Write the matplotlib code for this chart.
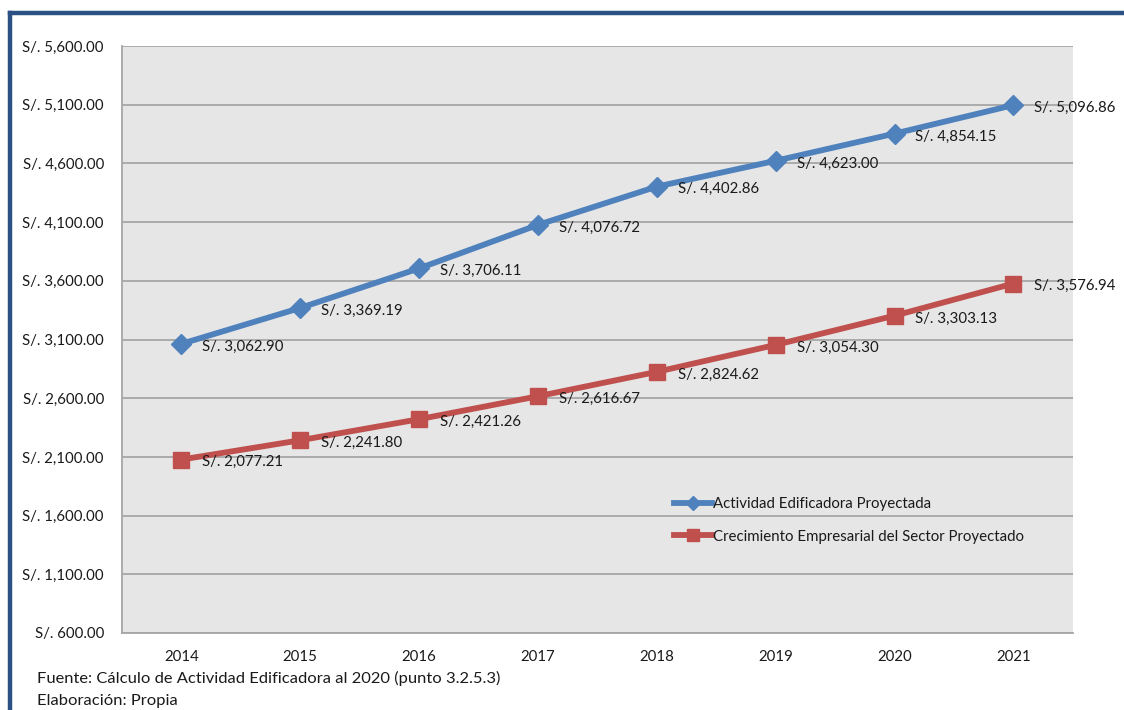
import matplotlib
matplotlib.use("Agg")
import matplotlib.pyplot as plt
from matplotlib.lines import Line2D

plt.rcParams['font.family'] = ['Lato', 'DejaVu Sans']

years = [2014, 2015, 2016, 2017, 2018, 2019, 2020, 2021]
actividad = [3062.90, 3369.19, 3706.11, 4076.72, 4402.86, 4623.00, 4854.15, 5096.86]
crecimiento = [2077.21, 2241.80, 2421.26, 2616.67, 2824.62, 3054.30, 3303.13, 3576.94]
y_ticks = [600, 1100, 1600, 2100, 2600, 3100, 3600, 4100, 4600, 5100, 5600]

BLUE = '#4f81bd'
RED = '#c0504d'
TXT = '#1a1a1a'


def soles(v):
    return 'S/. {:,.2f}'.format(v)


fig = plt.figure(figsize=(11.24, 7.1), dpi=100)
ax = fig.add_axes([0.1085, 0.1085, 0.846, 0.8266])
ax.set_facecolor('#e6e6e6')

x = list(range(len(years)))
ax.plot(x, actividad, color=BLUE, lw=4.2, marker='D', ms=10.5,
        label='Actividad Edificadora Proyectada', zorder=3)
ax.plot(x, crecimiento, color=RED, lw=4.2, marker='s', ms=11.5,
        label='Crecimiento Empresarial del Sector Proyectado', zorder=3)

for serie in (actividad, crecimiento):
    for xi, v in zip(x, serie):
        ax.annotate(soles(v), (xi, v), xytext=(15, -2), textcoords='offset points',
                    ha='left', va='center', fontsize=10.8, color=TXT, zorder=4)

ax.set_xlim(-0.5, len(years) - 0.5)
ax.set_ylim(600, 5600)
ax.set_yticks(y_ticks)
ax.set_yticklabels([soles(t) for t in y_ticks])
ax.set_xticks(x)
ax.set_xticklabels([str(y) for y in years])
ax.tick_params(axis='both', length=0, labelsize=10.8, colors=TXT)
ax.tick_params(axis='y', pad=13)
ax.tick_params(axis='x', pad=12)
ax.yaxis.grid(True, color='#a6a6a6', lw=1.3)
ax.set_axisbelow(True)

for side in ('top', 'right'):
    ax.spines[side].set_visible(False)
for side in ('left', 'bottom'):
    ax.spines[side].set_color('#a6a6a6')
    ax.spines[side].set_linewidth(1.3)

ax.legend(loc='upper left', bbox_to_anchor=(0.581, 0.232), frameon=False,
          fontsize=10.8, handlelength=2.5, handletextpad=0.05, labelspacing=1.25,
          borderpad=0, borderaxespad=0, markerscale=0.7, labelcolor=TXT)

# outer frame (top and left edges)
fig.add_artist(Line2D([0.009, 1.0], [0.981, 0.981], color='#2b5184', lw=3.2,
                      transform=fig.transFigure))
fig.add_artist(Line2D([0.009, 0.009], [0.0, 0.981], color='#2b5184', lw=3.2,
                      transform=fig.transFigure))

fig.text(0.033, 0.045, 'Fuente: Cálculo de Actividad Edificadora al 2020 (punto 3.2.5.3)',
         fontsize=11.85, color=TXT, va='center')
fig.text(0.033, 0.013, 'Elaboración: Propia', fontsize=11.85, color=TXT, va='center')

fig.savefig('out.png', dpi=100)
